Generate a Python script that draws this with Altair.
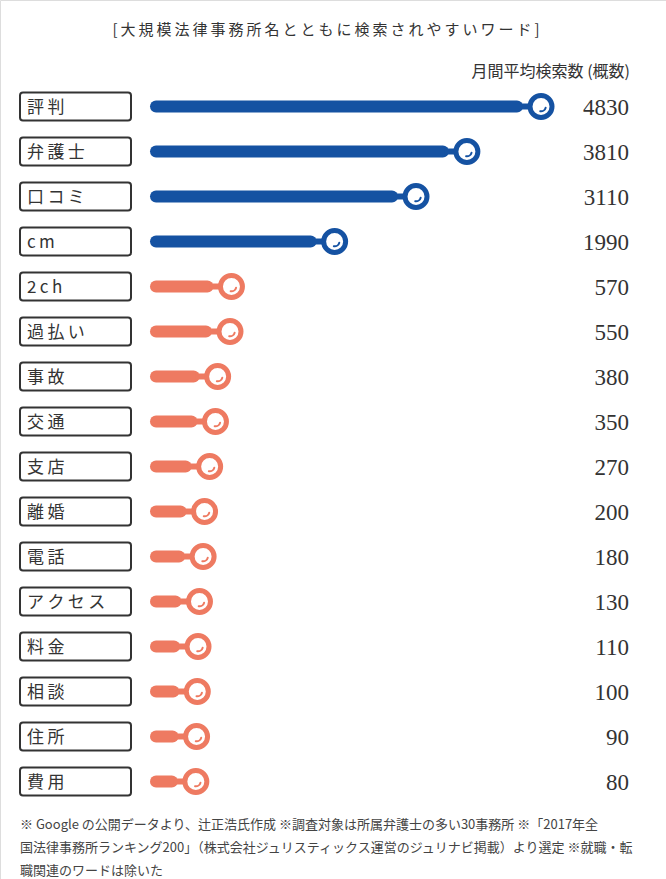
import altair as alt
import pandas as pd

# ---- data ----
words = ["評判", "弁護士", "口コミ", "cm", "2ch", "過払い", "事故", "交通", "支店",
         "離婚", "電話", "アクセス", "料金", "相談", "住所", "費用"]
searches = [4830, 3810, 3110, 1990, 570, 550, 380, 350, 270, 200, 180, 130, 110, 100, 90, 80]

title_text = "[大規模法律事務所名とともに検索されやすいワード]"
unit_text = "月間平均検索数 (概数)"
footnote_lines = [
    "※ Google の公開データより、辻正浩氏作成 ※調査対象は所属弁護士の多い30事務所 ※「2017年全",
    "国法律事務所ランキング200」（株式会社ジュリスティックス運営のジュリナビ掲載）より選定 ※就職・転",
    "職関連のワードは除いた",
]

THIN = "\u2009"


def spaced(s):
    return THIN.join(list(s))


df = pd.DataFrame({"word": words, "value": searches})
df["shown"] = [spaced(w) for w in words]

BLUE = "#1552a2"
ORANGE = "#ee7a61"
TEXT = "#333333"
JP = "Noto Sans CJK JP"

color_cond = alt.condition(alt.datum.value > 1000, alt.value(BLUE), alt.value(ORANGE))

y_enc = alt.Y("word:N", sort=words, axis=None,
              scale=alt.Scale(range=[84, 804], paddingInner=0.378, paddingOuter=0.189))
x_scale = alt.Scale(domain=[-2615, 6550], nice=False, zero=False)

base = alt.Chart(df)

boxes = base.mark_rect(fill="white", stroke=TEXT, strokeWidth=2, cornerRadius=3).encode(
    y=y_enc, x=alt.value(20), x2=alt.value(131))

labels = base.mark_text(align="left", baseline="middle", font=JP, fontSize=17,
                        color=TEXT, dy=1).encode(
    y=y_enc, x=alt.value(27), text="shown:N")

thick = base.mark_rule(strokeWidth=12, strokeCap="round", xOffset=-24).encode(
    y=y_enc, x=alt.X("value:Q", scale=x_scale, axis=None), x2=alt.value(156),
    stroke=color_cond)

neck = base.mark_rule(strokeWidth=6, xOffset=-22).encode(
    y=y_enc, x=alt.X("value:Q", scale=x_scale, axis=None), x2=alt.X2("value"),
    stroke=color_cond)

ring = base.mark_point(shape="circle", filled=True, fill="white", strokeWidth=5,
                       size=484, opacity=1).encode(
    y=y_enc, x=alt.X("value:Q", scale=x_scale, axis=None), stroke=color_cond)

glint = base.mark_point(shape="M -0.1 0.59 A 0.6 0.6 0 0 0 0.58 0.155", filled=False,
                        strokeWidth=2, strokeCap="round", size=256, opacity=1).encode(
    y=y_enc, x=alt.X("value:Q", scale=x_scale, axis=None), stroke=color_cond)

values = base.mark_text(align="right", baseline="middle", font="Liberation Serif",
                        fontSize=23, color=TEXT, dy=1).encode(
    y=y_enc, x=alt.value(629), text=alt.Text("value:Q", format="d"))

title = alt.Chart(pd.DataFrame({"t": [spaced(title_text)]})).mark_text(
    align="center", baseline="middle", font=JP, fontSize=15,
    color=TEXT).encode(x=alt.value(326), y=alt.value(30), text="t:N")

unit = alt.Chart(pd.DataFrame({"t": [unit_text]})).mark_text(
    align="right", baseline="middle", font=JP, fontSize=16,
    color=TEXT).encode(x=alt.value(630), y=alt.value(72), text="t:N")

foot = alt.Chart(pd.DataFrame({"t": [0]})).mark_text(
    align="left", baseline="alphabetic", font=JP, fontSize=13, lineHeight=23,
    color="#444444", text=footnote_lines).encode(
    x=alt.value(20), y=alt.value(829))

chart = alt.layer(boxes, labels, thick, neck, ring, glint, values, title, unit, foot).properties(
    width=666, height=879,
    autosize=alt.AutoSizeParams(type="none"),
    padding=0,
).configure_view(strokeWidth=0, stroke="transparent").configure(background="white")

chart.save("out.html", embed_options={"renderer": "svg", "actions": False})
